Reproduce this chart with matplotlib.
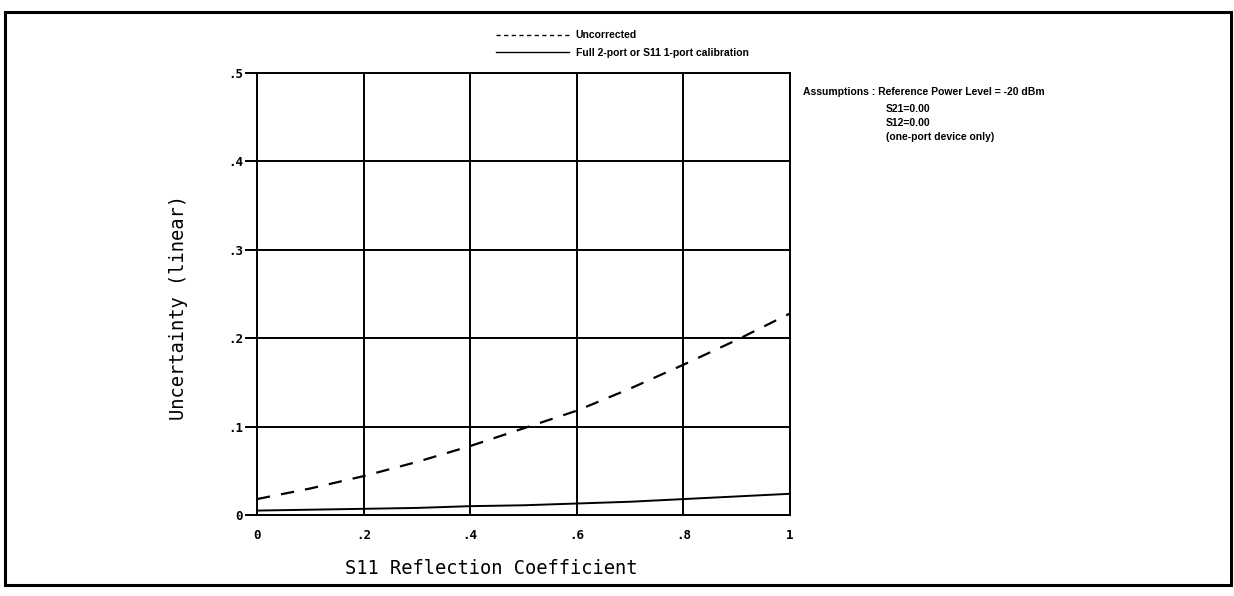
import matplotlib.pyplot as plt
from matplotlib.patches import Rectangle
from matplotlib.lines import Line2D

# S11 reflection coefficient vs uncertainty
s11 = [0.0, 0.1, 0.2, 0.3, 0.4, 0.5, 0.6, 0.7, 0.8, 0.9, 1.0]
uncorrected = [0.018, 0.030, 0.044, 0.060, 0.078, 0.098, 0.118, 0.143, 0.170, 0.198, 0.228]
corrected = [0.005, 0.006, 0.007, 0.008, 0.010, 0.011, 0.013, 0.015, 0.018, 0.021, 0.024]

x_ticks = [0, 0.2, 0.4, 0.6, 0.8, 1.0]
x_labels = ["0", ".2", ".4", ".6", ".8", "1"]
y_ticks = [0, 0.1, 0.2, 0.3, 0.4, 0.5]
y_labels = ["0", ".1", ".2", ".3", ".4", ".5"]

mono = "DejaVu Sans Mono"
sans = "Liberation Sans"

fig = plt.figure(figsize=(12.34, 5.96), dpi=100)
ax = fig.add_axes([257 / 1234, 1 - 515 / 596, 533 / 1234, 442 / 596])

ax.plot(s11, uncorrected, color="black", lw=1.6, ls=(0, (6, 5)))
ax.plot(s11, corrected, color="black", lw=1.4)

ax.set_xlim(0, 1)
ax.set_ylim(0, 0.5)
ax.set_xticks(x_ticks)
ax.set_xticklabels(x_labels, fontfamily=mono, fontweight="bold", fontsize=9)
ax.set_yticks(y_ticks)
ax.set_yticklabels(y_labels, fontfamily=mono, fontweight="bold", fontsize=9)
ax.tick_params(axis="y", direction="out", length=9, width=1.4, pad=1)
ax.tick_params(axis="x", length=0, pad=10)
ax.grid(True, color="black", lw=1.4)
for sp in ax.spines.values():
    sp.set_linewidth(1.4)

ax.set_xlabel("S11 Reflection Coefficient", fontfamily=mono, fontsize=13.5)
ax.xaxis.set_label_coords(0.44, -0.10)
ax.set_ylabel("Uncertainty (linear)", fontfamily=mono, fontsize=13.5)
ax.yaxis.set_label_coords(-0.13, 0.47)

# legend uses the fine dash of the original key
handles = [Line2D([], [], color="black", lw=1.0, ls=(0, (3, 2.5))),
           Line2D([], [], color="black", lw=1.0)]
ax.legend(handles, ["Uncorrected", "Full 2-port or S11 1-port calibration"],
          loc="upper left", bbox_to_anchor=(487 / 1234, 1 - 21 / 596),
          bbox_transform=fig.transFigure, frameon=False, handlelength=7,
          handletextpad=0.6, labelspacing=0.7,
          prop={"family": sans, "weight": "bold", "size": 7.5})

fig.text(803 / 1234, 1 - 92 / 596, "Assumptions : Reference Power Level = -20 dBm",
         family=sans, weight="bold", size=7.5, va="center")
fig.text(886 / 1234, 1 - 109 / 596, "S21=0.00", family=sans, weight="bold", size=7.5, va="center")
fig.text(886 / 1234, 1 - 123 / 596, "S12=0.00", family=sans, weight="bold", size=7.5, va="center")
fig.text(886 / 1234, 1 - 137 / 596, "(one-port device only)", family=sans, weight="bold",
         size=7.5, va="center")

# scanned page border
fig.patches.append(Rectangle((5 / 1234, 1 - 585 / 596), 1226 / 1234, 573 / 596,
                             transform=fig.transFigure, fill=False, lw=2.2,
                             edgecolor="black"))

fig.savefig("out.png", dpi=100)
